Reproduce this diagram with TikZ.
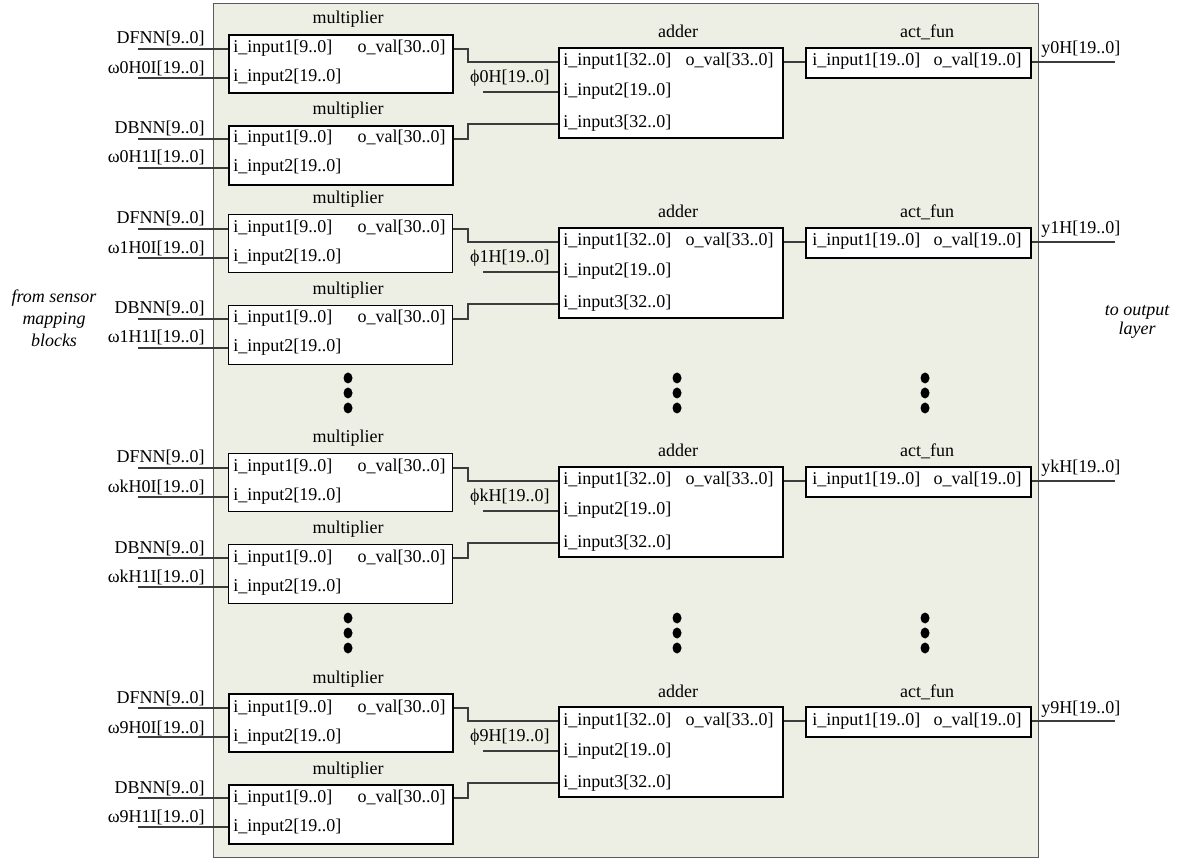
\documentclass[tikz,border=0pt]{standalone}
\usepackage{fontspec}
\setmainfont{Liberation Serif}
\usetikzlibrary{shapes.geometric}
\definecolor{panelbg}{RGB}{238,239,228}
\definecolor{panelline}{RGB}{90,90,90}
\definecolor{wirecol}{RGB}{60,60,60}
\begin{document}
\begin{tikzpicture}[x=0.5pt,y=-0.5pt,
  font=\fontsize{9pt}{11pt}\selectfont,
  panel/.style={draw=panelline,fill=panelbg,line width=0.6pt},
  blk/.style={draw=black,fill=white,inner sep=0pt,anchor=north west},
  wire/.style={draw=wirecol,line width=0.75pt},
  title/.style={inner sep=0pt,anchor=base},
  portL/.style={inner sep=0pt,anchor=base west},
  portR/.style={inner sep=0pt,anchor=base east},
  sigL/.style={inner sep=0pt,anchor=base east},
  sigR/.style={inner sep=0pt,anchor=base west},
  dotnode/.style={ellipse,fill=black,inner sep=0pt,minimum width=4.5pt,minimum height=5.5pt}]

\useasboundingbox (0,0) rectangle (1188,860);

% hidden-layer panel
\node[panel,anchor=north west,minimum width=412.5pt,minimum height=427pt,inner sep=0pt] (panel) at (213,3) {};

% side notes
\node[align=center,inner sep=0pt,font=\fontsize{9pt}{11pt}\selectfont\itshape] (src) at (54,318) {from sensor\\mapping\\blocks};
\node[align=center,inner sep=0pt,font=\fontsize{9pt}{9.5pt}\selectfont\itshape] (dst) at (1137,322) {to output\\layer};

% one neuron per row: two multipliers, adder, activation
\foreach \r/\t/\mw in {0/0/1pt,180/1/0.5pt,419/k/0.5pt,659/9/1pt}{
  % ports
  \coordinate (mA\t-i1) at (228,{49+\r});
  \coordinate (mA\t-i2) at (228,{78+\r});
  \coordinate (mA\t-o)  at (452,{49+\r});
  \coordinate (mB\t-i1) at (228,{139+\r});
  \coordinate (mB\t-i2) at (228,{168+\r});
  \coordinate (mB\t-o)  at (452,{139+\r});
  \coordinate (add\t-i1) at (558,{62+\r});
  \coordinate (add\t-i2) at (558,{92+\r});
  \coordinate (add\t-i3) at (558,{124+\r});
  \coordinate (add\t-o)  at (782,{62+\r});
  \coordinate (act\t-i)  at (805,{62+\r});
  \coordinate (act\t-o)  at (1030,{62+\r});
  % free ends of the signal lines
  \coordinate (inA1\t) at (138,{49+\r});
  \coordinate (inA2\t) at (138,{78+\r});
  \coordinate (inB1\t) at (138,{139+\r});
  \coordinate (inB2\t) at (138,{168+\r});
  \coordinate (phi\t-end) at (483,{92+\r});
  \coordinate (out\t-end) at (1115,{62+\r});

  % wires
  \draw[wire] (inA1\t) -- (mA\t-i1);
  \draw[wire] (inA2\t) -- (mA\t-i2);
  \draw[wire] (inB1\t) -- (mB\t-i1);
  \draw[wire] (inB2\t) -- (mB\t-i2);
  \draw[wire] (mA\t-o) -- ++(16,0) |- (add\t-i1);
  \draw[wire] (mB\t-o) -- ++(16,0) |- (add\t-i3);
  \draw[wire] (phi\t-end) -- (add\t-i2);
  \draw[wire] (add\t-o) -- (act\t-i);
  \draw[wire] (act\t-o) -- (out\t-end);

  % first multiplier
  \node[blk,line width=\mw,minimum width=112pt,minimum height=29pt] (mA\t) at (228,{34+\r}) {};
  \node[title] (mA\t-name) at (348,{24+\r}) {multiplier};
  \node[portL] (mA\t-t1) at (233,{53+\r}) {i\_input1[9..0]};
  \node[portL] (mA\t-t2) at (233,{82+\r}) {i\_input2[19..0]};
  \node[portR] (mA\t-to) at (446,{53+\r}) {o\_val[30..0]};

  % second multiplier
  \node[blk,line width=\mw,minimum width=112pt,minimum height=29.5pt] (mB\t) at (228,{125+\r}) {};
  \node[title] (mB\t-name) at (348,{115+\r}) {multiplier};
  \node[portL] (mB\t-t1) at (233,{143+\r}) {i\_input1[9..0]};
  \node[portL] (mB\t-t2) at (233,{172+\r}) {i\_input2[19..0]};
  \node[portR] (mB\t-to) at (446,{143+\r}) {o\_val[30..0]};

  % adder
  \node[blk,line width=1pt,minimum width=112pt,minimum height=45pt] (add\t) at (558,{47+\r}) {};
  \node[title] (add\t-name) at (678,{38+\r}) {adder};
  \node[portL] (add\t-t1) at (563,{66+\r}) {i\_input1[32..0]};
  \node[portL] (add\t-t2) at (563,{96+\r}) {i\_input2[19..0]};
  \node[portL] (add\t-t3) at (563,{128+\r}) {i\_input3[32..0]};
  \node[portR] (add\t-to) at (774,{66+\r}) {o\_val[33..0]};

  % activation function
  \node[blk,line width=1pt,minimum width=112.5pt,minimum height=15pt] (act\t) at (805,{47+\r}) {};
  \node[title] (act\t-name) at (927,{38+\r}) {act\_fun};
  \node[portL] (act\t-t1) at (812,{66+\r}) {i\_input1[19..0]};
  \node[portR] (act\t-to) at (1022,{66+\r}) {o\_val[19..0]};

  % signal names
  \node[sigL] (DF\t) at (205,{44+\r}) {DFNN[9..0]};
  \node[sigL] (w0\t) at (205,{74+\r}) {ω\t H0I[19..0]};
  \node[sigL] (DB\t) at (205,{134+\r}) {DBNN[9..0]};
  \node[sigL] (w1\t) at (205,{163+\r}) {ω\t H1I[19..0]};
  \node[sigL] (phi\t) at (550,{82.5+\r}) {ϕ\t H[19..0]};
  \node[sigR] (y\t) at (1041,{54+\r}) {y\t H[19..0]};
}

% continuation dots
\foreach \x in {348,677,925}{
  \foreach \y in {378,393,408,618,633,648}{
    \node[dotnode] (dot-\x-\y) at (\x,\y) {};
  }
}
\end{tikzpicture}
\end{document}
